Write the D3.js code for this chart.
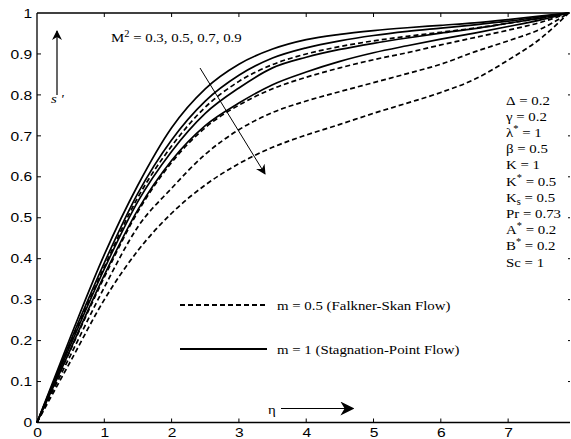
<!DOCTYPE html>
<html>
<head>
<meta charset="utf-8">
<script src="https://cdn.jsdelivr.net/npm/d3@7"></script>
<style>
  html, body { margin: 0; padding: 0; background: #fff; }
  svg { display: block; }
  .tick-label { font-family: "Liberation Sans", Arial, sans-serif; font-size: 13px; fill: #000; }
  .note { font-family: "Liberation Serif", "Times New Roman", serif; font-size: 13.5px; fill: #000; }
</style>
</head>
<body>
<svg id="chart" width="571" height="439"></svg>
<script>
// Similarity variable eta sampling
const eta = [0, 0.5, 1, 1.5, 2, 2.5, 3, 3.5, 4, 4.5, 5, 5.5, 6, 6.5, 7, 7.5, 7.9];

// Velocity profiles s' for m = 1 (stagnation-point flow), M^2 = 0.3, 0.5, 0.7, 0.9
const stagM03 = [0, 0.21, 0.41, 0.58, 0.72, 0.815, 0.875, 0.912, 0.935, 0.948, 0.957, 0.964, 0.970, 0.976, 0.984, 0.993, 1];
const stagM05 = [0, 0.20, 0.39, 0.56, 0.69, 0.785, 0.848, 0.89, 0.915, 0.932, 0.945, 0.955, 0.963, 0.971, 0.980, 0.991, 1];
const stagM07 = [0, 0.19, 0.375, 0.54, 0.662, 0.755, 0.817, 0.866, 0.892, 0.911, 0.926, 0.939, 0.951, 0.962, 0.975, 0.988, 1];
const stagM09 = [0, 0.18, 0.36, 0.52, 0.64, 0.725, 0.78, 0.825, 0.856, 0.882, 0.903, 0.92, 0.936, 0.951, 0.967, 0.984, 1];

// Velocity profiles s' for m = 0.5 (Falkner-Skan flow), M^2 = 0.3, 0.5, 0.7, 0.9
const fsM03 = [0, 0.195, 0.38, 0.55, 0.675, 0.77, 0.833, 0.874, 0.90, 0.918, 0.932, 0.943, 0.953, 0.963, 0.975, 0.988, 1];
const fsM05 = [0, 0.178, 0.355, 0.515, 0.635, 0.72, 0.775, 0.815, 0.843, 0.866, 0.886, 0.903, 0.922, 0.94, 0.958, 0.978, 1];
const fsM07 = [0, 0.165, 0.33, 0.478, 0.572, 0.655, 0.715, 0.757, 0.785, 0.808, 0.83, 0.852, 0.875, 0.905, 0.932, 0.962, 1];
const fsM09 = [0, 0.15, 0.30, 0.42, 0.511, 0.58, 0.632, 0.672, 0.702, 0.728, 0.755, 0.78, 0.806, 0.838, 0.885, 0.94, 1];

const solidSeries = [stagM03, stagM05, stagM07, stagM09];
const dashedSeries = [fsM03, fsM05, fsM07, fsM09];

const xTicks = [0, 1, 2, 3, 4, 5, 6, 7];
const yTicks = [0, 0.1, 0.2, 0.3, 0.4, 0.5, 0.6, 0.7, 0.8, 0.9, 1];
const yTickLabels = ["0", "0.1", "0.2", "0.3", "0.4", "0.5", "0.6", "0.7", "0.8", "0.9", "1"];

const params = [
  ["Δ", "", "", "0.2"],
  ["γ", "", "", "0.2"],
  ["λ", "*", "", "1"],
  ["β", "", "", "0.5"],
  ["K", "", "", "1"],
  ["K", "*", "", "0.5"],
  ["K", "", "s", "0.5"],
  ["Pr", "", "", "0.73"],
  ["A", "*", "", "0.2"],
  ["B", "*", "", "0.2"],
  ["Sc", "", "", "1"]
];

const legendItems = [
  { label: "m = 0.5 (Falkner-Skan Flow)", dashed: true },
  { label: "m = 1 (Stagnation-Point Flow)", dashed: false }
];

const svg = d3.select("#chart");
const plotLeft = 37, plotTop = 13, plotBottom = 422.5, plotRight = 570;

// the exported figure has slightly wide lettering
const noteStretch = 1.1, tickStretch = 1.2;

const x = d3.scaleLinear().domain([0, 7.9]).range([plotLeft, 568.7]);
const y = d3.scaleLinear().domain([0, 1]).range([plotBottom, plotTop]);

// arrowhead markers
const defs = svg.append("defs");
defs.append("marker")
  .attr("id", "head")
  .attr("viewBox", "0 0 10 10")
  .attr("refX", 9).attr("refY", 5)
  .attr("markerWidth", 10).attr("markerHeight", 10)
  .attr("markerUnits", "userSpaceOnUse")
  .attr("orient", "auto")
  .append("path").attr("d", "M0,0 L10,5 L0,10 L3,5 Z").attr("fill", "#000");
defs.append("marker")
  .attr("id", "headBig")
  .attr("viewBox", "0 0 10 10")
  .attr("refX", 9).attr("refY", 5)
  .attr("markerWidth", 14).attr("markerHeight", 14)
  .attr("markerUnits", "userSpaceOnUse")
  .attr("orient", "auto")
  .append("path").attr("d", "M0,0 L10,5 L0,10 L3,5 Z").attr("fill", "#000");

// axis frame: left, top, bottom lines
svg.append("line").attr("x1", plotLeft).attr("x2", plotLeft).attr("y1", plotTop).attr("y2", plotBottom)
  .attr("stroke", "#000").attr("stroke-width", 1.3);
svg.append("line").attr("x1", plotLeft).attr("x2", plotRight).attr("y1", plotTop).attr("y2", plotTop)
  .attr("stroke", "#000").attr("stroke-width", 1.3);
svg.append("line").attr("x1", plotLeft).attr("x2", plotRight).attr("y1", plotBottom).attr("y2", plotBottom)
  .attr("stroke", "#000").attr("stroke-width", 1.6);

// bottom axis
const xAxis = d3.axisBottom(x).tickValues(xTicks).tickSize(0).tickPadding(5).tickFormat(d3.format("d"));
const gx = svg.append("g").attr("transform", `translate(0,${plotBottom})`).call(xAxis);
gx.select(".domain").remove();
gx.selectAll("text").attr("class", "tick-label").attr("font-family", null).attr("font-size", null)
  .attr("transform", `scale(${tickStretch},1)`);

// left axis
const yAxis = d3.axisLeft(y).tickValues(yTicks).tickSize(0).tickPadding(4)
  .tickFormat((d, i) => yTickLabels[i]);
const gy = svg.append("g").attr("transform", `translate(${plotLeft},0)`).call(yAxis);
gy.select(".domain").remove();
gy.selectAll("text").attr("class", "tick-label").attr("font-family", null).attr("font-size", null)
  .attr("transform", `scale(${tickStretch},1)`);

// inward tick marks
const tickLen = 4;
svg.append("g").selectAll("line").data(xTicks.filter(d => d > 0)).join("line")
  .attr("x1", d => x(d)).attr("x2", d => x(d))
  .attr("y1", plotBottom).attr("y2", plotBottom - tickLen)
  .attr("stroke", "#000").attr("stroke-width", 1);
svg.append("g").selectAll("line").data(xTicks.filter(d => d > 0)).join("line")
  .attr("x1", d => x(d)).attr("x2", d => x(d))
  .attr("y1", plotTop).attr("y2", plotTop + tickLen)
  .attr("stroke", "#000").attr("stroke-width", 1);
svg.append("g").selectAll("line").data(yTicks.filter(d => d > 0 && d < 1)).join("line")
  .attr("x1", plotLeft).attr("x2", plotLeft + tickLen)
  .attr("y1", d => y(d)).attr("y2", d => y(d))
  .attr("stroke", "#000").attr("stroke-width", 1);
svg.append("g").selectAll("line").data(yTicks.filter(d => d > 0 && d < 1)).join("line")
  .attr("x1", plotRight).attr("x2", plotRight - 2)
  .attr("y1", d => y(d)).attr("y2", d => y(d))
  .attr("stroke", "#000").attr("stroke-width", 1);

// profiles
const line = d3.line()
  .x((d, i) => x(eta[i]))
  .y(d => y(d))
  .curve(d3.curveMonotoneX);

svg.append("g").selectAll("path").data(dashedSeries).join("path")
  .attr("d", line)
  .attr("fill", "none").attr("stroke", "#000").attr("stroke-width", 1.7)
  .attr("stroke-dasharray", "5,3");

svg.append("g").selectAll("path").data(solidSeries).join("path")
  .attr("d", line)
  .attr("fill", "none").attr("stroke", "#000").attr("stroke-width", 1.7);

// text helper: places a note at (px, py) with horizontal stretch
function note(px, py) {
  return svg.append("text").attr("class", "note")
    .attr("transform", `translate(${px},${py}) scale(${noteStretch},1)`);
}

// M^2 annotation and trend arrow
const mt = note(111, 42);
mt.append("tspan").text("M");
mt.append("tspan").attr("dy", -5).attr("font-size", "9.5px").text("2");
mt.append("tspan").attr("dy", 5).text(" = 0.3, 0.5, 0.7, 0.9");

svg.append("line").attr("x1", 200).attr("y1", 68).attr("x2", 265).attr("y2", 174)
  .attr("stroke", "#000").attr("stroke-width", 1).attr("marker-end", "url(#head)");

// s' label with upward arrow
svg.append("line").attr("x1", 57).attr("y1", 95).attr("x2", 57).attr("y2", 31)
  .attr("stroke", "#000").attr("stroke-width", 1.2).attr("marker-end", "url(#head)");
note(51, 103).attr("font-style", "italic").text("s '");

// eta label with arrow
note(268, 414).attr("font-size", "14px").text("η");
svg.append("line").attr("x1", 281).attr("y1", 408.5).attr("x2", 353).attr("y2", 408.5)
  .attr("stroke", "#000").attr("stroke-width", 1).attr("marker-end", "url(#headBig)");

// legend
const lg = svg.append("g").selectAll("g").data(legendItems).join("g")
  .attr("transform", (d, i) => `translate(180,${305 + i * 44})`);
lg.append("line").attr("x1", 0).attr("x2", 87).attr("y1", 0).attr("y2", 0)
  .attr("stroke", "#000").attr("stroke-width", 1.8)
  .attr("stroke-dasharray", d => d.dashed ? "5,3" : null);
lg.append("text").attr("class", "note")
  .attr("transform", `translate(97,4.5) scale(${noteStretch},1)`)
  .text(d => d.label);

// parameter list
params.forEach((d, i) => {
  const t = note(506, 104.5 + i * 16.2);
  t.append("tspan").text(d[0]);
  if (d[1]) t.append("tspan").attr("dy", -5).attr("font-size", "9.5px").text(d[1]);
  if (d[2]) t.append("tspan").attr("dy", 3).attr("font-size", "9.5px").text(d[2]);
  const back = d[1] ? 5 : (d[2] ? -3 : 0);
  t.append("tspan").attr("dy", back).text(" = " + d[3]);
});
</script>
</body>
</html>
